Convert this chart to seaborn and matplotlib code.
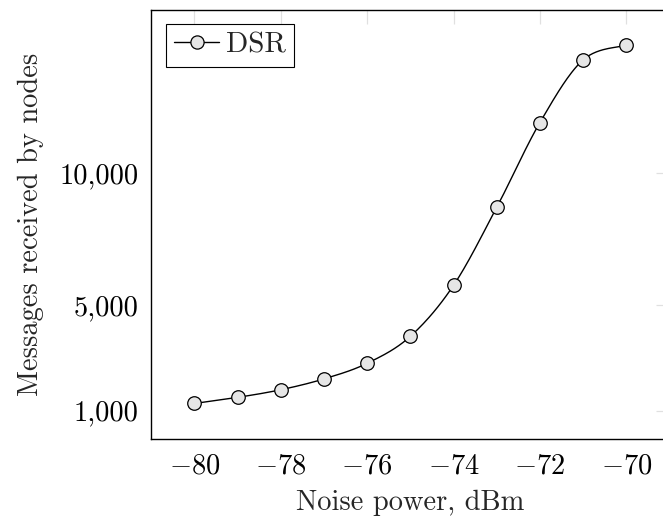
import numpy as np
import pandas as pd
import matplotlib
matplotlib.use("Agg")
import matplotlib.pyplot as plt
import seaborn as sns
from matplotlib.ticker import FuncFormatter
from matplotlib.lines import Line2D

noise_dbm = [-80, -79, -78, -77, -76, -75, -74, -73, -72, -71, -70]
messages = [1270, 1500, 1790, 2200, 2790, 3810, 5740, 8690, 11900, 14270, 14820]
series_name = "DSR"
x_ticks = [-80, -78, -76, -74, -72, -70]
y_ticks = [1000, 5000, 10000]

sns.set_theme(style="white")
plt.rcParams["font.family"] = ["cmr10", "DejaVu Serif"]
plt.rcParams["mathtext.fontset"] = "cm"
plt.rcParams["axes.formatter.use_mathtext"] = True

df = pd.DataFrame({"x": noise_dbm, "y": messages})

fig = plt.figure(figsize=(6.63, 5.23), dpi=100)
W, H = 663, 523
l, r, t, b = 151.2, 669.5, 9.5, 439.3
ax = fig.add_axes([l / W, (H - b) / H, (r - l) / W, (b - t) / H])


def smooth_curve(xs, ys, n=30):
    p = np.column_stack([xs, ys]).astype(float)
    out = []
    for i in range(len(p) - 1):
        p0 = p[i - 1] if i > 0 else p[i]
        p1, p2 = p[i], p[i + 1]
        p3 = p[i + 2] if i + 2 < len(p) else p[i + 1]
        c1 = p1 + (p2 - p0) / 6.0
        c2 = p2 - (p3 - p1) / 6.0
        tt = np.linspace(0, 1, n, endpoint=(i == len(p) - 2))[:, None]
        seg = ((1 - tt) ** 3) * p1 + 3 * ((1 - tt) ** 2) * tt * c1 + 3 * (1 - tt) * tt ** 2 * c2 + tt ** 3 * p2
        out.append(seg)
    s = np.vstack(out)
    return s[:, 0], s[:, 1]


sx, sy = smooth_curve(df["x"].values, df["y"].values)
ax.plot(sx, sy, color="black", lw=1.0, zorder=2)
sns.scatterplot(data=df, x="x", y="y", ax=ax, s=95, color="#e6e6e6",
                edgecolor="black", linewidth=0.9, zorder=3, legend=False)

h = Line2D([], [], color="black", lw=1.0, marker="o", markersize=9.5,
           markerfacecolor="#e6e6e6", markeredgecolor="black", markeredgewidth=0.9)
leg = ax.legend([h], [series_name], loc="upper left", fontsize=21,
                frameon=True, fancybox=False, framealpha=1, edgecolor="black",
                handlelength=1.55, handletextpad=0.22, borderpad=0.28,
                borderaxespad=0.5)
leg.get_frame().set_linewidth(0.8)

ax.set_xlim(-81, -69)
ax.set_ylim(-85, 16175)
ax.set_xticks(x_ticks)
ax.set_yticks(y_ticks)
ax.xaxis.set_major_formatter(FuncFormatter(lambda v, p: f"${int(v)}$"))
ax.yaxis.set_major_formatter(FuncFormatter(lambda v, p: f"{int(v):,}"))
ax.tick_params(axis="both", which="major", direction="in", length=10, width=0.9,
               color="#e0e0e0", labelsize=20.5, top=True, right=True,
               labelcolor="black")
ax.tick_params(axis="x", pad=10)
ax.tick_params(axis="y", pad=9)

for s in ax.spines.values():
    s.set_color("black")
    s.set_linewidth(1.0)

ax.set_xlabel("Noise power, dBm", fontsize=20.5, labelpad=7)
ax.set_ylabel("Messages received by nodes", fontsize=20.5, labelpad=11)
ax.grid(False)

fig.savefig("out.png", dpi=100)
